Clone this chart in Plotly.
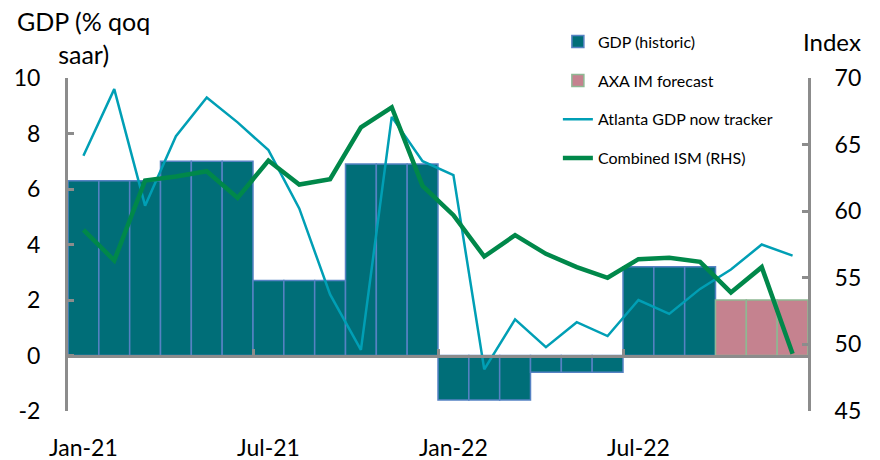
import plotly.graph_objects as go

months = ["Jan-21","Feb-21","Mar-21","Apr-21","May-21","Jun-21","Jul-21","Aug-21","Sep-21","Oct-21","Nov-21","Dec-21",
          "Jan-22","Feb-22","Mar-22","Apr-22","May-22","Jun-22","Jul-22","Aug-22","Sep-22","Oct-22","Nov-22","Dec-22"]
gdp_hist = [6.3,6.3,6.3,7.0,7.0,7.0,2.7,2.7,2.7,6.9,6.9,6.9,
            -1.6,-1.6,-1.6,-0.6,-0.6,-0.6,3.2,3.2,3.2,None,None,None]
gdp_fcst = [None]*21 + [2.0,2.0,2.0]
atlanta = [7.2,9.6,5.4,7.9,9.3,8.4,7.4,5.3,2.2,0.2,8.6,7.0,
           6.5,-0.5,1.3,0.3,1.2,0.7,2.0,1.5,2.4,3.1,4.0,3.6]
ism = [58.6,56.3,62.3,62.6,63.0,61.0,63.8,62.0,62.4,66.3,67.8,61.9,
       59.7,56.6,58.2,56.8,55.8,55.0,56.4,56.5,56.2,53.9,55.8,49.3]
tick_labels = ["Jan-21","Jul-21","Jan-22","Jul-22"]
left_ticks = [-2, 0, 2, 4, 6, 8, 10]
left_tick_text = ["-2", "0", "2", "4", "6", "8", "10"]
right_ticks = [45, 50, 55, 60, 65, 70]

x = list(range(len(months)))
tickvals = [months.index(t) for t in tick_labels]
grey = "#8C8C8C"
font = "Lato, 'Open Sans', sans-serif"

fig = go.Figure()
fig.add_trace(go.Bar(x=x, y=gdp_hist, width=1, name="GDP (historic)",
                     marker=dict(color="#006E78", line=dict(color="#5682C3", width=1.5)),
                     legendgroup="a", xaxis="x", yaxis="y"))
fig.add_trace(go.Bar(x=x, y=gdp_fcst, width=1, name="AXA IM forecast",
                     marker=dict(color="#C5828F", line=dict(color="#8FB893", width=1.5)),
                     legendgroup="b", xaxis="x", yaxis="y"))
fig.add_trace(go.Scatter(x=x, y=atlanta, mode="lines", name="Atlanta GDP now tracker",
                         line=dict(color="#009FB5", width=2.5), legendgroup="c",
                         xaxis="x2", yaxis="y"))
fig.add_trace(go.Scatter(x=x, y=ism, mode="lines", name="Combined ISM (RHS)",
                         line=dict(color="#00884A", width=4.5), legendgroup="d",
                         xaxis="x2", yaxis="y2"))

fig.update_layout(
    width=880, height=460,
    margin=dict(l=68, r=72, t=78, b=49, autoexpand=False),
    paper_bgcolor="white", plot_bgcolor="white",
    font=dict(family=font, size=23, color="black"),
    barmode="overlay",
    xaxis=dict(range=[-0.5, 23.5], tickmode="array", tickvals=tickvals, ticktext=tick_labels,
               showline=False, showgrid=False, zeroline=False, automargin=False,
               ticks="outside", ticklen=16, tickcolor="rgba(0,0,0,0)", anchor="y"),
    xaxis2=dict(range=[-0.5, 23.5], overlaying="x", anchor="free", position=1/6,
                showline=True, linecolor=grey, linewidth=3, showgrid=False, zeroline=False,
                tickmode="array", tickvals=[5.5, 11.5, 17.5], ticks="inside", ticklen=6,
                tickwidth=3, tickcolor=grey, showticklabels=False, automargin=False),
    yaxis=dict(range=[-2, 10], tickmode="array", tickvals=left_ticks, ticktext=left_tick_text,
               showline=True, linecolor=grey, linewidth=3,
               ticks="inside", ticklen=6, tickwidth=3, tickcolor=grey, automargin=False,
               showgrid=False, zeroline=False, anchor="x", ticklabelstandoff=20),
    yaxis2=dict(range=[45, 70], tickmode="array", tickvals=right_ticks, side="right",
                overlaying="y", anchor="x", automargin=False,
                showline=True, linecolor=grey, linewidth=3, ticks="inside", ticklen=6,
                tickwidth=3, tickcolor=grey, showgrid=False, zeroline=False,
                ticklabelstandoff=19),
    legend=dict(x=0.662, y=1.16, xanchor="left", yanchor="top", traceorder="grouped",
                tracegroupgap=15, font=dict(size=16), bgcolor="rgba(0,0,0,0)"),
    annotations=[
        dict(text="GDP (% qoq<br>saar)", xref="paper", yref="paper", x=0.0203, y=1.222,
             xanchor="center", yanchor="top", showarrow=False, align="center",
             font=dict(size=25)),
        dict(text="Index", xref="paper", yref="paper", x=1.033, y=1.158,
             xanchor="center", yanchor="top", showarrow=False, font=dict(size=24)),
    ],
)

fig.write_html("out.html", config={"displayModeBar": False},
               post_script="document.body.style.margin='0';")
